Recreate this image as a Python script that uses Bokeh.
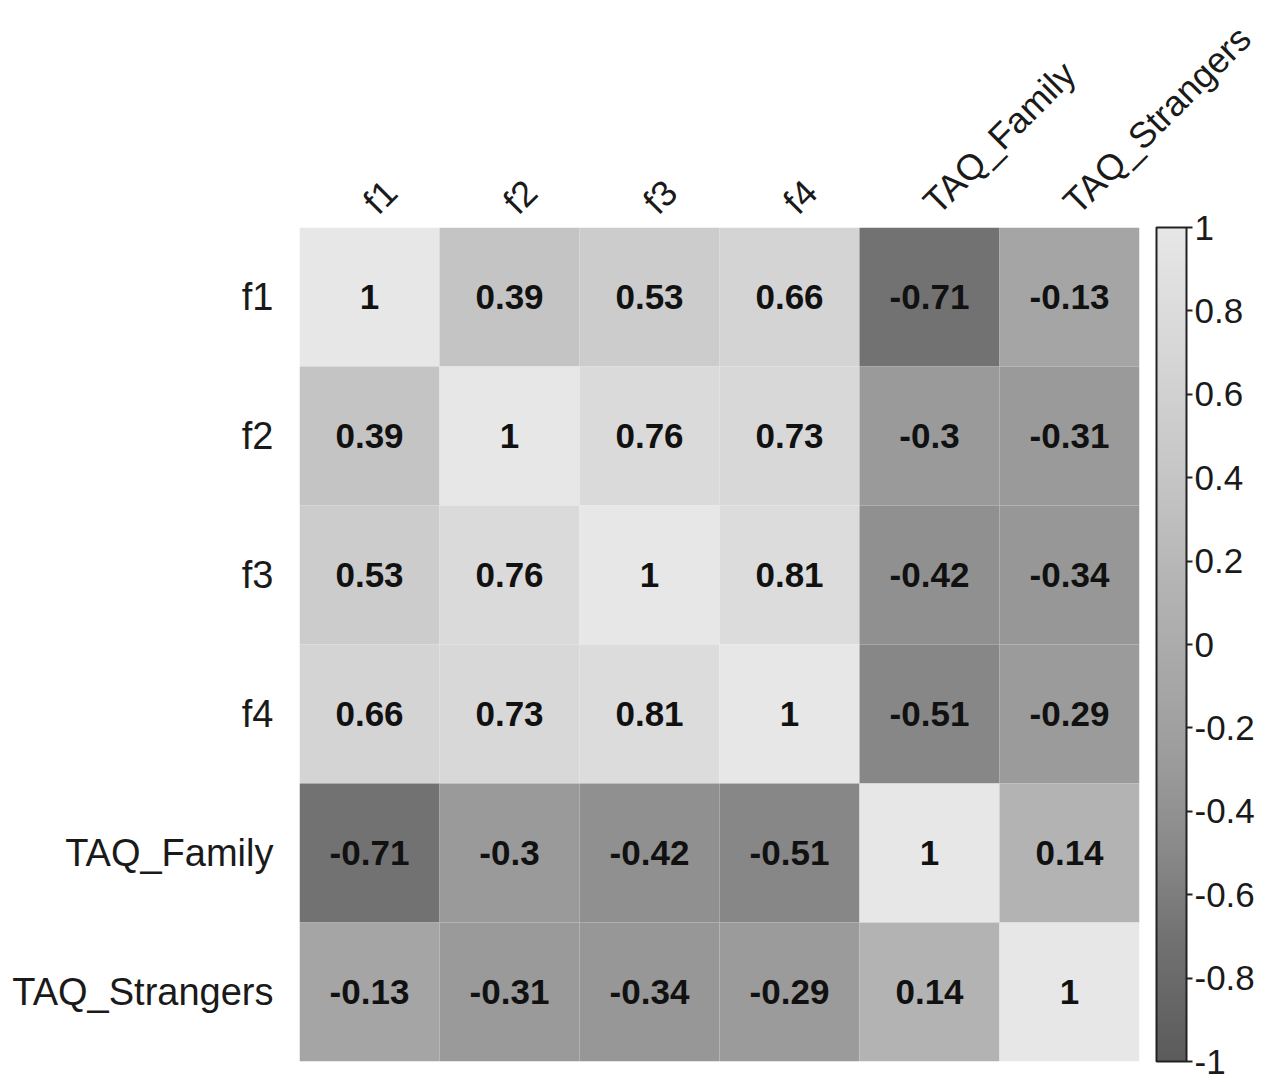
import numpy as np
from bokeh.plotting import figure
from bokeh.models import ColumnDataSource, LinearColorMapper, ColorBar, FixedTicker, CustomJSTickFormatter
from bokeh.core.properties import value
from bokeh.embed import file_html
from bokeh.resources import INLINE

variables = ["f1", "f2", "f3", "f4", "TAQ_Family", "TAQ_Strangers"]
corr = [
    [1.00, 0.39, 0.53, 0.66, -0.71, -0.13],
    [0.39, 1.00, 0.76, 0.73, -0.30, -0.31],
    [0.53, 0.76, 1.00, 0.81, -0.42, -0.34],
    [0.66, 0.73, 0.81, 1.00, -0.51, -0.29],
    [-0.71, -0.30, -0.42, -0.51, 1.00, 0.14],
    [-0.13, -0.31, -0.34, -0.29, 0.14, 1.00],
]
colorbar_ticks = [-1, -0.8, -0.6, -0.4, -0.2, 0, 0.2, 0.4, 0.6, 0.8, 1]

# grey ramp (style)
anchor_v = [-1.0, -0.71, -0.51, -0.3, -0.13, 0.0, 0.14, 0.39, 0.76, 1.0]
anchor_g = [92, 114, 136, 155, 165, 172, 180, 197, 218, 231]
vals = np.linspace(-1, 1, 256)
greys = np.interp(vals, anchor_v, anchor_g)
palette = ["#%02x%02x%02x" % (int(g), int(g), int(g)) for g in greys]

xs, ys, vs, labels = [], [], [], []
for i, row in enumerate(variables):
    for j, col in enumerate(variables):
        xs.append(col)
        ys.append(row)
        vs.append(corr[i][j])
        labels.append(("%g" % corr[i][j]))
src = ColumnDataSource(dict(x=xs, y=ys, v=vs, label=labels))

mapper = LinearColorMapper(palette=palette, low=-1, high=1)

p = figure(width=1268, height=1080, x_range=variables, y_range=list(reversed(variables)),
           x_axis_location="above", output_backend="svg", toolbar_location=None,
           min_border_left=299, min_border_top=223, min_border_right=129, min_border_bottom=19)
p.rect(x="x", y="y", width=1, height=1, source=src,
       fill_color={"field": "v", "transform": mapper}, line_color=None)
p.text(x="x", y="y", text="label", source=src, text_align="center", text_baseline="middle",
       text_font=value("Liberation Sans"), text_font_style="bold", text_font_size="35px",
       text_color="#111111")

p.grid.visible = False
p.outline_line_color = None
for ax in (p.xaxis[0], p.yaxis[0]):
    ax.axis_line_color = None
    ax.major_tick_line_color = None
    ax.minor_tick_line_color = None
    ax.major_label_text_font = "Liberation Sans"
    ax.major_label_text_color = "#1a1a1a"
p.xaxis.major_label_text_font_size = "36px"
p.yaxis.major_label_text_font_size = "38px"
p.xaxis.major_label_orientation = np.pi / 4
p.xaxis.major_label_standoff = 14
p.yaxis.major_label_standoff = 20

cb = ColorBar(color_mapper=mapper, width=30, padding=0, margin=0, location=(17, 0),
              ticker=FixedTicker(ticks=colorbar_ticks),
              formatter=CustomJSTickFormatter(code="return String(Number(tick.toFixed(2)));"),
              bar_line_color="#222222", bar_line_width=2,
              major_tick_in=0, major_tick_out=6, major_tick_line_color="#222222", major_tick_line_width=2,
              minor_tick_line_color=None,
              major_label_text_font="Liberation Sans", major_label_text_font_size="35px",
              major_label_text_color="#1a1a1a", label_standoff=2,
              background_fill_color=None, border_line_color=None)
p.add_layout(cb, "right")

open("out.html", "w").write(file_html(p, INLINE))
